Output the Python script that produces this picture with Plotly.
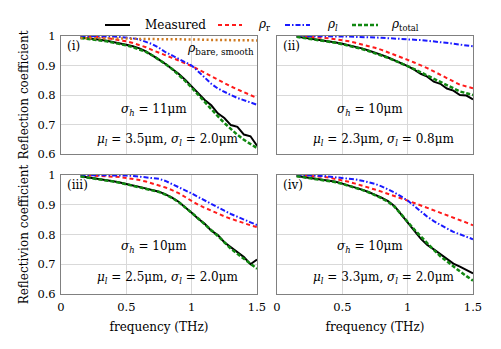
import plotly.graph_objects as go

# frequency grid (THz)
freq = [0.15, 0.2, 0.25, 0.3, 0.35, 0.4, 0.45, 0.5, 0.55, 0.6, 0.65, 0.7, 0.75, 0.8,
        0.85, 0.9, 0.95, 1.0, 1.05, 1.1, 1.15, 1.2, 1.25, 1.3, 1.35, 1.4, 1.45, 1.5]

# panel (i)
meas_1 = [0.995, 0.993, 0.990, 0.987, 0.984, 0.980, 0.975, 0.970, 0.965, 0.958, 0.948, 0.935, 0.920, 0.905,
          0.890, 0.872, 0.852, 0.830, 0.808, 0.783, 0.765, 0.738, 0.722, 0.698, 0.692, 0.666, 0.660, 0.628]
rr_1 = [1.0, 0.999, 0.998, 0.996, 0.993, 0.990, 0.986, 0.982, 0.976, 0.970, 0.962, 0.952, 0.944, 0.935,
        0.926, 0.917, 0.908, 0.898, 0.887, 0.875, 0.863, 0.851, 0.840, 0.829, 0.819, 0.809, 0.799, 0.790]
rl_1 = [1.0, 1.0, 1.0, 0.999, 0.999, 0.998, 0.997, 0.995, 0.992, 0.988, 0.981, 0.972, 0.960, 0.945,
        0.934, 0.922, 0.912, 0.900, 0.880, 0.858, 0.838, 0.822, 0.810, 0.800, 0.790, 0.783, 0.775, 0.767]
rt_1 = [0.993, 0.991, 0.988, 0.985, 0.982, 0.978, 0.973, 0.968, 0.962, 0.955, 0.946, 0.934, 0.920, 0.905,
        0.888, 0.869, 0.848, 0.825, 0.800, 0.776, 0.752, 0.728, 0.705, 0.684, 0.665, 0.648, 0.633, 0.620]
rbare_1 = [0.993, 0.993, 0.993, 0.992, 0.992, 0.992, 0.991, 0.991, 0.991, 0.990, 0.990, 0.990, 0.990, 0.989,
           0.989, 0.989, 0.988, 0.988, 0.988, 0.987, 0.987, 0.987, 0.986, 0.986, 0.986, 0.985, 0.985, 0.985]

# panel (ii)
meas_2 = [0.998, 0.995, 0.992, 0.989, 0.986, 0.982, 0.978, 0.974, 0.969, 0.964, 0.958, 0.951, 0.944, 0.936,
          0.927, 0.918, 0.909, 0.898, 0.886, 0.872, 0.862, 0.845, 0.838, 0.822, 0.815, 0.800, 0.798, 0.785]
rr_2 = [1.0, 0.999, 0.998, 0.996, 0.994, 0.992, 0.989, 0.986, 0.982, 0.977, 0.972, 0.966, 0.960, 0.953,
        0.945, 0.937, 0.928, 0.919, 0.910, 0.901, 0.891, 0.880, 0.868, 0.857, 0.846, 0.835, 0.829, 0.823]
rl_2 = [1.0, 1.0, 1.0, 1.0, 0.999, 0.999, 0.999, 0.998, 0.998, 0.997, 0.997, 0.996, 0.995, 0.994,
        0.993, 0.992, 0.991, 0.990, 0.988, 0.986, 0.984, 0.982, 0.980, 0.977, 0.974, 0.971, 0.968, 0.965]
rt_2 = [0.997, 0.994, 0.991, 0.988, 0.985, 0.981, 0.977, 0.972, 0.967, 0.962, 0.956, 0.949, 0.942, 0.934,
        0.926, 0.917, 0.908, 0.898, 0.888, 0.877, 0.866, 0.855, 0.845, 0.834, 0.823, 0.812, 0.806, 0.800]

# panel (iii)
meas_3 = [0.996, 0.993, 0.990, 0.987, 0.983, 0.979, 0.975, 0.969, 0.965, 0.960, 0.955, 0.950, 0.944, 0.935,
          0.924, 0.910, 0.893, 0.873, 0.853, 0.836, 0.813, 0.798, 0.774, 0.757, 0.738, 0.724, 0.700, 0.716]
rr_3 = [1.0, 0.999, 0.998, 0.997, 0.996, 0.995, 0.993, 0.990, 0.987, 0.983, 0.978, 0.972, 0.966, 0.958,
        0.949, 0.939, 0.926, 0.912, 0.900, 0.890, 0.880, 0.870, 0.861, 0.853, 0.845, 0.838, 0.831, 0.825]
rl_3 = [1.0, 1.0, 1.0, 1.0, 0.999, 0.999, 0.999, 0.998, 0.997, 0.995, 0.993, 0.991, 0.987, 0.980,
        0.970, 0.960, 0.950, 0.938, 0.926, 0.914, 0.902, 0.891, 0.880, 0.869, 0.859, 0.850, 0.841, 0.832]
rt_3 = [0.995, 0.992, 0.989, 0.986, 0.982, 0.978, 0.974, 0.969, 0.965, 0.960, 0.955, 0.949, 0.943, 0.934,
        0.923, 0.909, 0.892, 0.873, 0.854, 0.835, 0.815, 0.795, 0.774, 0.752, 0.735, 0.718, 0.700, 0.685]

# panel (iv)
meas_4 = [0.997, 0.994, 0.991, 0.988, 0.985, 0.981, 0.977, 0.971, 0.965, 0.958, 0.951, 0.943, 0.934, 0.924,
          0.912, 0.895, 0.868, 0.839, 0.813, 0.786, 0.765, 0.750, 0.733, 0.717, 0.702, 0.692, 0.680, 0.669]
rr_4 = [1.0, 0.999, 0.998, 0.996, 0.994, 0.991, 0.987, 0.982, 0.977, 0.971, 0.965, 0.958, 0.951, 0.944,
        0.937, 0.930, 0.922, 0.914, 0.906, 0.898, 0.890, 0.882, 0.874, 0.866, 0.857, 0.849, 0.840, 0.831]
rl_4 = [1.0, 1.0, 0.999, 0.998, 0.997, 0.995, 0.993, 0.991, 0.988, 0.985, 0.981, 0.976, 0.970, 0.962,
        0.952, 0.941, 0.928, 0.914, 0.896, 0.877, 0.860, 0.845, 0.832, 0.820, 0.809, 0.800, 0.792, 0.784]
rt_4 = [0.996, 0.993, 0.990, 0.987, 0.984, 0.980, 0.976, 0.970, 0.964, 0.957, 0.950, 0.942, 0.933, 0.922,
        0.910, 0.893, 0.868, 0.842, 0.817, 0.794, 0.770, 0.748, 0.727, 0.709, 0.692, 0.676, 0.660, 0.645]

panel_labels = ['(i)', '(ii)', '(iii)', '(iv)']
sigma_h = ['11μm', '10μm', '10μm', '10μm']
mu_l = ['3.5μm', '2.3μm', '2.5μm', '3.3μm']
sigma_l = ['2.0μm', '0.8μm', '2.0μm', '2.0μm']

x_ticks = [0, 0.5, 1, 1.5]
y_ticks = [0.6, 0.7, 0.8, 0.9, 1]

FONT = 'DejaVu Serif'
W, H = 501, 349
OFF = 8  # the page body adds an 8px margin, so pull everything back by that

RED = '#ff1a1a'
BLUE = '#1a1aff'
GREEN = '#118811'
ORANGE = '#d07a20'
DASH_R = '4px,3px'
DASH_B = '5px,2px,1.5px,2px'
DASH_G = '4px,2px'
EQ = '&nbsp;=&nbsp;'


def px_x(p):
    return (p - OFF) / W


def px_y(p):
    return 1 - (p - OFF) / H


fig = go.Figure()

panels = [(meas_1, rr_1, rl_1, rt_1), (meas_2, rr_2, rl_2, rt_2),
          (meas_3, rr_3, rl_3, rt_3), (meas_4, rr_4, rl_4, rt_4)]

for i, (meas, rr, rl, rt) in enumerate(panels):
    ax = '' if i == 0 else str(i + 1)
    xa, ya = 'x' + ax, 'y' + ax
    fig.add_trace(go.Scatter(x=freq, y=meas, xaxis=xa, yaxis=ya, mode='lines',
                             line=dict(color='black', width=2)))
    fig.add_trace(go.Scatter(x=freq, y=rr, xaxis=xa, yaxis=ya, mode='lines',
                             line=dict(color=RED, width=2, dash=DASH_R)))
    fig.add_trace(go.Scatter(x=freq, y=rl, xaxis=xa, yaxis=ya, mode='lines',
                             line=dict(color=BLUE, width=2, dash=DASH_B)))
    fig.add_trace(go.Scatter(x=freq, y=rt, xaxis=xa, yaxis=ya, mode='lines',
                             line=dict(color=GREEN, width=2.5, dash=DASH_G)))
    if i == 0:
        fig.add_trace(go.Scatter(x=freq, y=rbare_1, xaxis=xa, yaxis=ya, mode='lines',
                                 line=dict(color=ORANGE, width=2.5, dash='2px,2.5px')))

# panel geometry in pixels
xdoms = [(61, 257), (277, 473)]
ydoms = [(36, 154), (175, 294)]

layout = dict(width=W, height=H, margin=dict(l=0, r=0, t=0, b=0), showlegend=False,
              plot_bgcolor='white', paper_bgcolor='white',
              font=dict(family=FONT, size=12, color='black'))

for i in range(4):
    ax = '' if i == 0 else str(i + 1)
    col, row = i % 2, i // 2
    x0, x1 = xdoms[col]
    y0, y1 = ydoms[row]
    layout['xaxis' + ax] = dict(domain=[px_x(x0), px_x(x1)], range=[0, 1.5], tickvals=x_ticks,
                                ticktext=['0', '0.5', '1', '1.5'], showticklabels=row == 1,
                                showgrid=True, gridcolor='#d9d9d9', gridwidth=1, zeroline=False,
                                showline=True, linecolor='#808080', linewidth=1, mirror=True,
                                ticks='outside', ticklen=2, tickcolor='rgba(0,0,0,0)',
                                anchor='y' + ax, tickfont=dict(size=11.5), automargin=False,
                                title=dict(text='frequency (THz)' if row == 1 else '',
                                           font=dict(size=12), standoff=9))
    layout['yaxis' + ax] = dict(domain=[px_y(y1), px_y(y0)], range=[0.6, 1], tickvals=y_ticks,
                                ticktext=['0.6', '0.7', '0.8', '0.9', '1'], showticklabels=col == 0,
                                showgrid=True, gridcolor='#d9d9d9', gridwidth=1, zeroline=False,
                                showline=True, linecolor='#808080', linewidth=1, mirror=True,
                                ticks='outside', ticklen=2, tickcolor='rgba(0,0,0,0)',
                                anchor='x' + ax, tickfont=dict(size=11.5), automargin=False)

layout['yaxis']['title'] = dict(text='Reflection coefficient', font=dict(size=12), standoff=6)
layout['yaxis3']['title'] = dict(text='Reflectivion coefficient', font=dict(size=12), standoff=6)
fig.update_layout(**layout)

# annotations per panel
sig_y = [0.749, 0.75, 0.759, 0.759]
mu_y = [0.647, 0.647, 0.654, 0.654]
for i in range(4):
    ax = '' if i == 0 else str(i + 1)
    fig.add_annotation(x=0.03, y=0.965, xref='x' + ax, yref='y' + ax, text=panel_labels[i],
                       showarrow=False, xanchor='left', yanchor='middle', font=dict(size=12))
    fig.add_annotation(x=0.71, y=sig_y[i], xref='x' + ax, yref='y' + ax,
                       text='<i>σ</i><sub><i>h</i></sub>' + EQ + sigma_h[i],
                       showarrow=False, font=dict(size=12))
    fig.add_annotation(x=0.82, y=mu_y[i], xref='x' + ax, yref='y' + ax,
                       text='<i>μ</i><sub><i>l</i></sub>' + EQ + mu_l[i] + ', <i>σ</i><sub><i>l</i></sub>' + EQ + sigma_l[i],
                       showarrow=False, font=dict(size=12))

fig.add_annotation(x=1.22, y=0.956, xref='x', yref='y', text='<i>ρ</i><sub>bare, smooth</sub>',
                   showarrow=False, font=dict(size=12.5))

# legend row drawn by hand across the top
leg_y = px_y(25)
leg_items = [('Measured', 'black', 'solid', 2, 105, 130, 143),
             ('<i>ρ</i><sub>r</sub>', RED, DASH_R, 2, 218, 242, 256),
             ('<i>ρ</i><sub><i>l</i></sub>', BLUE, DASH_B, 2, 285, 310, 325),
             ('<i>ρ</i><sub>total</sub>', GREEN, DASH_G, 2.5, 352, 378, 389)]
for text, color, dash, width, lx0, lx1, tx in leg_items:
    fig.add_shape(type='line', xref='paper', yref='paper', x0=px_x(lx0), x1=px_x(lx1), y0=leg_y, y1=leg_y,
                  line=dict(color=color, width=width, dash=dash))
    fig.add_annotation(x=px_x(tx), y=leg_y, xref='paper', yref='paper', text=text, showarrow=False,
                       xanchor='left', yanchor='middle', font=dict(size=12))

fig.write_html("out.html")
